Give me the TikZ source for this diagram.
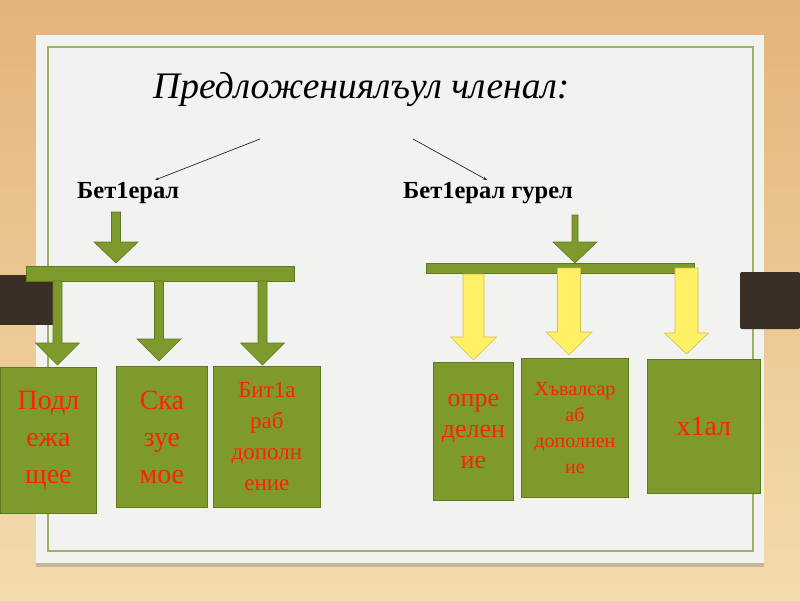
\documentclass[tikz,border=0pt]{standalone}
\usepackage{fontspec}
\setmainfont{Liberation Serif}
\usetikzlibrary{arrows.meta,shadows}
\definecolor{tanA}{HTML}{E4B47A}
\definecolor{tanB}{HTML}{F3DCAE}
\definecolor{panel}{HTML}{F2F2F0}
\definecolor{frameg}{HTML}{9CB262}
\definecolor{olive}{HTML}{7F9A2C}
\definecolor{oliveD}{HTML}{5F7A1E}
\definecolor{yel}{HTML}{FFF066}
\definecolor{yelD}{HTML}{CFC24A}
\definecolor{redt}{HTML}{FF2200}
\definecolor{darkbar}{HTML}{3A2F26}
\tikzset{
  box/.style={draw=oliveD, fill=olive, line width=0.8pt, text=redt, align=center, inner sep=0pt, anchor=north west},
  garrow/.style={draw=oliveD, fill=olive, line width=0.6pt},
  yarrow/.style={draw=yelD, fill=yel, line width=0.6pt},
  hbar/.style={draw=oliveD, fill=olive, line width=0.6pt},
  thin/.style={draw=black!85, line width=0.7pt, -{Stealth[length=4pt,width=3pt]}},
  lbl/.style={font=\fontsize{24.5}{28}\selectfont\bfseries, anchor=base west, inner sep=0pt},
}
% style, x, shaft half width, head half width, shaft top, head top, tip
\newcommand\blkarrow[7]{%
  \draw[#1] (#2-#3,#5) -- (#2-#3,#6) -- (#2-#4,#6) -- (#2,#7) -- (#2+#4,#6) -- (#2+#3,#6) -- (#2+#3,#5) -- cycle;}
\begin{document}
\begin{tikzpicture}[x=1pt,y=-1pt]
\useasboundingbox (0,0) rectangle (800,600);
% background
\shade[top color=tanA, bottom color=tanB] (0,0) rectangle (800,600);
% panel
\fill[panel, drop shadow={shadow xshift=0pt, shadow yshift=-4pt, opacity=0.4}] (36,35) rectangle (764,563);
\draw[frameg, line width=1.4pt] (48,47) rectangle (753,551);
% dark bars
\fill[darkbar] (0,275) rectangle (53,325);
\fill[darkbar, rounded corners=2pt] (740,272) rectangle (800,329);
% title
\node[font=\fontsize{37.5}{40}\selectfont\itshape, anchor=base west, inner sep=0pt] (title) at (153,98) {Предложениялъул членал:};
% labels
\node[lbl] (l1) at (77,198) {Бет1ерал};
\node[lbl] (l2) at (403,198) {Бет1ерал гурел};
\coordinate (s1) at (260,139);
\coordinate (e1) at (155,180);
\coordinate (s2) at (413,139);
\coordinate (e2) at (487,180);
\draw[thin] (s1) -- (e1);
\draw[thin] (s2) -- (e2);
% left tree
\blkarrow{garrow}{116}{4.5}{22}{212}{242}{263}
\draw[hbar] (26,266) rectangle (294,281);
\blkarrow{garrow}{57.5}{4.5}{22}{281}{343}{365}
\blkarrow{garrow}{159}{4.5}{22}{281}{339}{361}
\blkarrow{garrow}{262.5}{4.5}{22}{281}{343}{365}
% right tree
\blkarrow{garrow}{575}{3}{22}{215}{242}{263}
\draw[hbar] (426,263) rectangle (694,273);
\blkarrow{yarrow}{473.5}{10.5}{23}{274}{337}{360}
\blkarrow{yarrow}{569}{11.5}{23}{268}{332}{355}
\blkarrow{yarrow}{686.5}{11.5}{22}{268}{333}{354}
% boxes
\node[box, minimum width=96pt, minimum height=146pt, font=\fontsize{28}{37}\selectfont] (b1) at (0,367) {Подл\\ежа\\щее};
\node[box, minimum width=91pt, minimum height=141pt, font=\fontsize{28}{37}\selectfont] (b2) at (116,366) {Ска\\зуе\\мое};
\node[box, minimum width=107pt, minimum height=141pt, font=\fontsize{23}{31}\selectfont] (b3) at (213,366) {Бит1а\\раб\\дополн\\ение};
\node[box, minimum width=80pt, minimum height=138pt, font=\fontsize{26}{31}\selectfont] (b4) at (433,362) {опре\\делен\\ие};
\node[box, minimum width=107pt, minimum height=139pt, font=\fontsize{20}{26}\selectfont] (b5) at (521,358) {Хъвалсар\\аб\\дополнен\\ие};
\node[box, minimum width=113pt, minimum height=134pt, font=\fontsize{28}{32}\selectfont] (b6) at (647,359) {х1ал};
\end{tikzpicture}
\end{document}
